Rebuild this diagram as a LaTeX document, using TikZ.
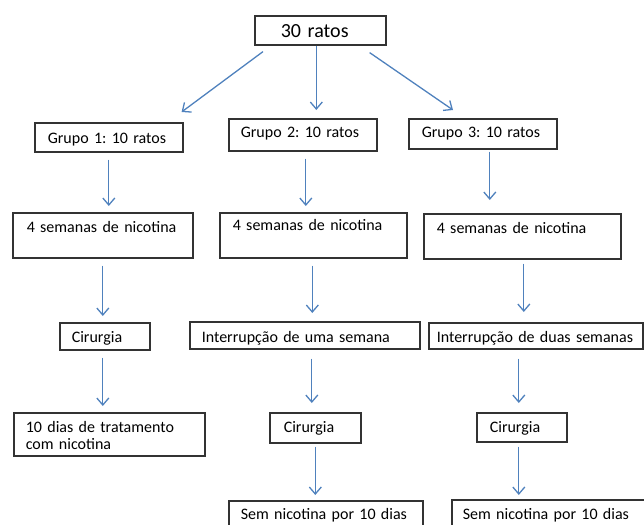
\documentclass[tikz,border=0pt]{standalone}
\usepackage{fontspec}
\setmainfont{Carlito}
\usepackage{xcolor}
\usetikzlibrary{positioning,arrows.meta,calc}
\definecolor{flowblue}{RGB}{79,129,189}
\frenchspacing

\begin{document}
\begin{tikzpicture}[
    x=1pt, y=-1pt,
    font=\fontsize{16}{17}\selectfont,
    box/.style={
        draw=black!80,
        line width=1.6pt,
        anchor=north west,
        align=left,
        inner ysep=0pt
    },
    % text width, text height, text depth
    sized/.style n args={3}{text width=#1pt, text height=#2pt, text depth=#3pt},
    flow/.style={draw=flowblue, line width=1.3pt,
                 -{Straight Barb[length=7pt,width=12pt]}},
    link/.style={flow, shorten <=7pt, shorten >=6pt}
]
\useasboundingbox (0,0) rectangle (644,524);

% root
\node[box, sized={79}{22}{7}, inner xsep=26pt,
      font=\fontsize{20}{22}\selectfont] (top) at (254,15) {30 ratos};

% groups
\node[box, sized={122}{21}{8}, inner xsep=13pt] (g1) at (34,122) {Grupo 1: 10 ratos};
\node[box, sized={124}{19}{13}, inner xsep=12pt] (g2) at (228,118) {Grupo 2: 10 ratos};
\node[box, sized={122}{19}{11}, inner xsep=13pt] (g3) at (408,118) {Grupo 3: 10 ratos};

% nicotine
\node[box, sized={152}{20}{25}, inner xsep=14pt] (s1) at (12,212) {4 semanas de nicotina};
\node[box, sized={161}{18}{27}, inner xsep=13pt] (s2) at (219,212) {4 semanas de nicotina};
\node[box, sized={171}{20}{25}, inner xsep=13pt] (s3) at (423,213) {4 semanas de nicotina};

% third row
\node[box, sized={66}{20}{7}, inner xsep=12pt] (c1) at (59,322) {Cirurgia};
\node[box, sized={206}{21}{6}, inner xsep=12pt] (u2) at (189,321) {Interrupção de uma semana};
\node[box, sized={198}{20}{6}, inner xsep=8pt] (u3) at (428,322)
    {\mbox{Interrupção de duas semanas}};

% fourth row
\node[box, sized={167}{20}{23}, inner xsep=12pt] (t1) at (13,412)
    {10 dias de tratamento\\com nicotina};
\node[box, sized={63}{20}{10}, inner xsep=14pt] (c2) at (269,412) {Cirurgia};
\node[box, sized={64}{20}{9}, inner xsep=13pt] (c3) at (476,412) {Cirurgia};

% last row
\node[box, sized={170}{19}{20}, inner xsep=12pt] (n2) at (228,500) {Sem nicotina por 10 dias};
\node[box, sized={178}{20}{20}, inner xsep=11pt] (n3) at (451,499) {Sem nicotina por 10 dias};

% split
\draw[flow] ($(top.south west)+(9,6)$) -- ($(g1.north east)+(-2,-10)$);
\draw[flow, shorten >=8pt] ([xshift=-4pt]top.south) -- ([xshift=-4pt]top.south |- g2.north);
\draw[flow] ($(top.south east)+(-17,7)$) -- ($(g3.north west)+(45,-8)$);

% columns
\draw[link] (g1.south) -- (g1.south |- s1.north);
\draw[link] ([xshift=3pt]g2.south) -- ([xshift=3pt]g2.south |- s2.north);
\draw[flow, shorten <=2pt, shorten >=13pt] ([xshift=7pt]g3.south) -- ([xshift=7pt]g3.south |- s3.north);

\draw[link] (s1.south) -- (s1.south |- c1.north);
\draw[link, shorten >=8pt] ([xshift=-1pt]s2.south) -- ([xshift=-1pt]s2.south |- u2.north);
\draw[flow, shorten <=4pt, shorten >=10pt] ([xshift=1.5pt]s3.south) -- ([xshift=1.5pt]s3.south |- u3.north);

\draw[link] ([xshift=-2pt]c1.south) -- ([xshift=-2pt]c1.south |- t1.north);
\draw[flow, shorten <=9pt, shorten >=9pt] ([xshift=7pt]u2.south) -- ([xshift=7pt]u2.south |- c2.north);
\draw[flow, shorten <=9pt, shorten >=9pt] ([xshift=-17pt]u3.south) -- ([xshift=-17pt]u3.south |- c3.north);

\draw[flow, shorten <=3pt, shorten >=5pt] (c2.south) -- (c2.south |- n2.north);
\draw[flow, shorten <=4pt, shorten >=4pt] ([xshift=-3pt]c3.south) -- ([xshift=-3pt]c3.south |- n3.north);

\end{tikzpicture}
\end{document}
